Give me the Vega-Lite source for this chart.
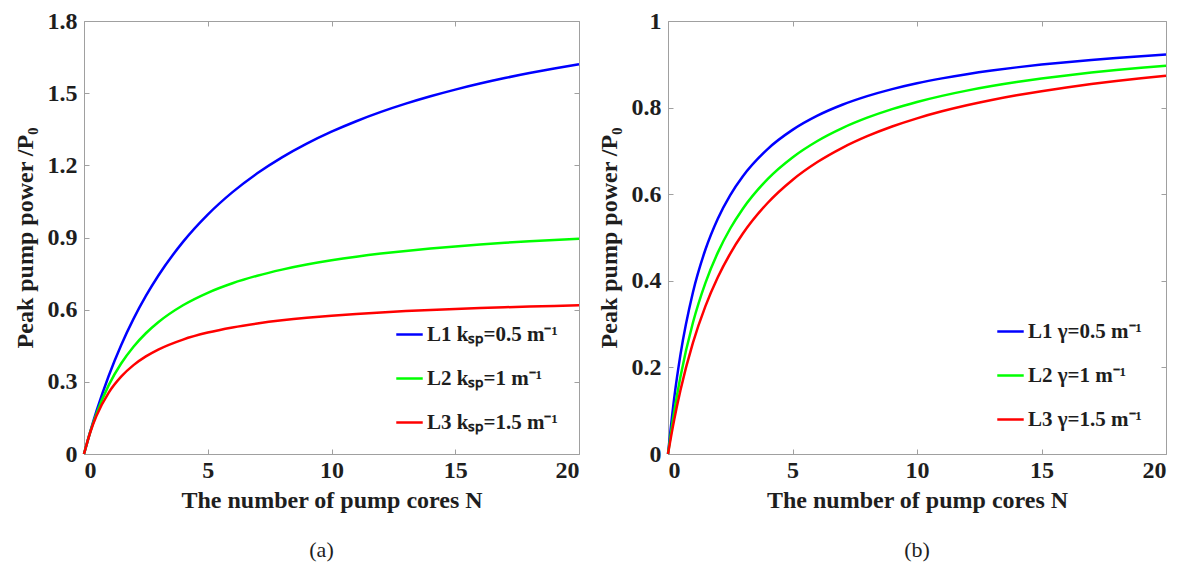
{
  "$schema": "https://vega.github.io/schema/vega-lite/v6.json",
  "background": "white",
  "padding": {"left": 12, "top": 8, "right": 5, "bottom": 0},
  "datasets": {
    "left": [
      {"N": 0, "L1": 0, "L2": 0, "L3": 0},
      {"N": 0.25, "L1": 0.0923, "L2": 0.091, "L3": 0.0894},
      {"N": 0.5, "L1": 0.1767, "L2": 0.1669, "L3": 0.1578},
      {"N": 1, "L1": 0.3254, "L2": 0.2864, "L3": 0.2553},
      {"N": 1.5, "L1": 0.4522, "L2": 0.3761, "L3": 0.3215},
      {"N": 2, "L1": 0.5616, "L2": 0.446, "L3": 0.3694},
      {"N": 2.5, "L1": 0.657, "L2": 0.502, "L3": 0.4056},
      {"N": 3, "L1": 0.741, "L2": 0.5478, "L3": 0.434},
      {"N": 4, "L1": 0.8817, "L2": 0.6184, "L3": 0.4757},
      {"N": 5, "L1": 0.9951, "L2": 0.6702, "L3": 0.5048},
      {"N": 6, "L1": 1.0885, "L2": 0.7099, "L3": 0.5262},
      {"N": 7, "L1": 1.1667, "L2": 0.7412, "L3": 0.5426},
      {"N": 8, "L1": 1.2331, "L2": 0.7665, "L3": 0.5557},
      {"N": 9, "L1": 1.2902, "L2": 0.7875, "L3": 0.5663},
      {"N": 10, "L1": 1.3399, "L2": 0.8051, "L3": 0.575},
      {"N": 11, "L1": 1.3834, "L2": 0.8201, "L3": 0.5824},
      {"N": 12, "L1": 1.422, "L2": 0.8331, "L3": 0.5887},
      {"N": 13, "L1": 1.4563, "L2": 0.8443, "L3": 0.5941},
      {"N": 14, "L1": 1.487, "L2": 0.8542, "L3": 0.5988},
      {"N": 15, "L1": 1.5148, "L2": 0.863, "L3": 0.603},
      {"N": 16, "L1": 1.5399, "L2": 0.8708, "L3": 0.6067},
      {"N": 17, "L1": 1.5628, "L2": 0.8779, "L3": 0.61},
      {"N": 18, "L1": 1.5837, "L2": 0.8842, "L3": 0.6129},
      {"N": 19, "L1": 1.6029, "L2": 0.89, "L3": 0.6156},
      {"N": 20, "L1": 1.6206, "L2": 0.8952, "L3": 0.618}
    ],
    "right": [
      {"N": 0, "L1": 0, "L2": 0, "L3": 0},
      {"N": 0.25, "L1": 0.1295, "L2": 0.098, "L3": 0.0794},
      {"N": 0.5, "L1": 0.2294, "L2": 0.1786, "L3": 0.1471},
      {"N": 1, "L1": 0.3731, "L2": 0.303, "L3": 0.2564},
      {"N": 1.5, "L1": 0.4717, "L2": 0.3947, "L3": 0.3409},
      {"N": 2, "L1": 0.5435, "L2": 0.4651, "L3": 0.4082},
      {"N": 2.5, "L1": 0.5981, "L2": 0.5208, "L3": 0.463},
      {"N": 3, "L1": 0.641, "L2": 0.566, "L3": 0.5085},
      {"N": 4, "L1": 0.7042, "L2": 0.6349, "L3": 0.5797},
      {"N": 5, "L1": 0.7485, "L2": 0.6849, "L3": 0.6329},
      {"N": 6, "L1": 0.7813, "L2": 0.7229, "L3": 0.6742},
      {"N": 7, "L1": 0.8065, "L2": 0.7527, "L3": 0.7071},
      {"N": 8, "L1": 0.8264, "L2": 0.7767, "L3": 0.7339},
      {"N": 9, "L1": 0.8427, "L2": 0.7965, "L3": 0.7563},
      {"N": 10, "L1": 0.8562, "L2": 0.813, "L3": 0.7752},
      {"N": 11, "L1": 0.8675, "L2": 0.8271, "L3": 0.7914},
      {"N": 12, "L1": 0.8772, "L2": 0.8392, "L3": 0.8054},
      {"N": 13, "L1": 0.8856, "L2": 0.8497, "L3": 0.8176},
      {"N": 14, "L1": 0.8929, "L2": 0.8589, "L3": 0.8284},
      {"N": 15, "L1": 0.8993, "L2": 0.8671, "L3": 0.838},
      {"N": 16, "L1": 0.905, "L2": 0.8743, "L3": 0.8466},
      {"N": 17, "L1": 0.9101, "L2": 0.8808, "L3": 0.8543},
      {"N": 18, "L1": 0.9146, "L2": 0.8867, "L3": 0.8612},
      {"N": 19, "L1": 0.9188, "L2": 0.892, "L3": 0.8676},
      {"N": 20, "L1": 0.9225, "L2": 0.8969, "L3": 0.8734}
    ]
  },
  "config": {
    "font": "Liberation Serif",
    "view": {"stroke": "#a0a0a0", "strokeWidth": 1},
    "axis": {
      "labelFont": "Liberation Serif", "labelFontWeight": "bold", "labelFontSize": 24, "labelColor": "#1e1e1e",
      "titleFont": "Liberation Serif", "titleFontWeight": "bold", "titleFontSize": 24, "titleColor": "#1e1e1e",
      "domain": false, "grid": false, "tickColor": "#a0a0a0", "tickSize": -5, "tickWidth": 1
    },
    "legend": {
      "labelFont": "Liberation Serif", "labelFontWeight": "bold", "labelFontSize": 21, "labelColor": "#1e1e1e",
      "symbolType": "stroke", "symbolSize": 700, "symbolStrokeWidth": 2.5, "rowPadding": 19,
      "labelOffset": 3, "padding": 0
    },
    "title": {"font": "Liberation Serif", "fontSize": 22, "fontWeight": "normal", "color": "#1e1e1e"}
  },
  "bounds": "flush",
  "spacing": 89,
  "resolve": {"scale": {"color": "independent"}},
  "hconcat": [
    {
      "width": 495, "height": 433,
      "data": {"name": "left"},
      "transform": [{"fold": ["L1", "L2", "L3"], "as": ["s", "P"]}],
      "title": {"text": "(a)", "orient": "bottom", "offset": 28, "dx": -10, "font": "Liberation Serif", "fontSize": 22, "fontWeight": "normal"},
      "layer": [
        {
          "mark": {"type": "line", "strokeWidth": 2.5, "interpolate": "monotone"},
          "encoding": {
            "x": {"field": "N", "type": "quantitative", "scale": {"domain": [0, 20], "nice": false},
                  "axis": {"values": [0, 5, 10, 15, 20], "title": "The number of pump cores N", "labelPadding": 9, "titlePadding": 6}},
            "y": {"field": "P", "type": "quantitative", "scale": {"domain": [0, 1.8], "nice": false},
                  "axis": {"values": [0, 0.3, 0.6, 0.9, 1.2, 1.5, 1.8], "title": "Peak pump power /P₀", "labelPadding": 12, "titlePadding": 10, "labelExpr": "format(datum.value, '.2~f')"}},
            "color": {"field": "s", "type": "nominal",
                      "scale": {"domain": ["L1", "L2", "L3"], "range": ["#0000ff", "#00ff00", "#ff0000"]},
                      "legend": {"title": null, "orient": "bottom-right", "offset": 21,
                                 "labelExpr": "datum.value == 'L1' ? 'L1 kₛₚ=0.5 m⁻¹' : datum.value == 'L2' ? 'L2 kₛₚ=1 m⁻¹' : 'L3 kₛₚ=1.5 m⁻¹'"}}
          }
        },
        {
          "mark": {"type": "line", "strokeOpacity": 0},
          "encoding": {
            "x": {"field": "N", "type": "quantitative", "axis": {"orient": "top", "values": [0, 5, 10, 15, 20], "labels": false, "title": null}},
            "y": {"field": "P", "type": "quantitative", "axis": {"orient": "right", "values": [0, 0.3, 0.6, 0.9, 1.2, 1.5, 1.8], "labels": false, "title": null}}
          }
        }
      ],
      "resolve": {"axis": {"x": "independent", "y": "independent"}}
    },
    {
      "width": 498, "height": 433,
      "data": {"name": "right"},
      "transform": [{"fold": ["L1", "L2", "L3"], "as": ["s", "P"]}],
      "title": {"text": "(b)", "orient": "bottom", "offset": 28, "font": "Liberation Serif", "fontSize": 22, "fontWeight": "normal"},
      "layer": [
        {
          "mark": {"type": "line", "strokeWidth": 2.5, "interpolate": "monotone"},
          "encoding": {
            "x": {"field": "N", "type": "quantitative", "scale": {"domain": [0, 20], "nice": false},
                  "axis": {"values": [0, 5, 10, 15, 20], "title": "The number of pump cores N", "labelPadding": 9, "titlePadding": 6}},
            "y": {"field": "P", "type": "quantitative", "scale": {"domain": [0, 1], "nice": false},
                  "axis": {"values": [0, 0.2, 0.4, 0.6, 0.8, 1], "title": "Peak pump power /P₀", "labelPadding": 12, "titlePadding": 10, "labelExpr": "format(datum.value, '.2~f')"}},
            "color": {"field": "s", "type": "nominal",
                      "scale": {"domain": ["L1", "L2", "L3"], "range": ["#0000ff", "#00ff00", "#ff0000"]},
                      "legend": {"title": null, "orient": "bottom-right", "offset": 24,
                                 "labelExpr": "datum.value == 'L1' ? 'L1 γ=0.5 m⁻¹' : datum.value == 'L2' ? 'L2 γ=1 m⁻¹' : 'L3 γ=1.5 m⁻¹'"}}
          }
        },
        {
          "mark": {"type": "line", "strokeOpacity": 0},
          "encoding": {
            "x": {"field": "N", "type": "quantitative", "axis": {"orient": "top", "values": [0, 5, 10, 15, 20], "labels": false, "title": null}},
            "y": {"field": "P", "type": "quantitative", "axis": {"orient": "right", "values": [0, 0.2, 0.4, 0.6, 0.8, 1], "labels": false, "title": null}}
          }
        }
      ],
      "resolve": {"axis": {"x": "independent", "y": "independent"}}
    }
  ]
}
